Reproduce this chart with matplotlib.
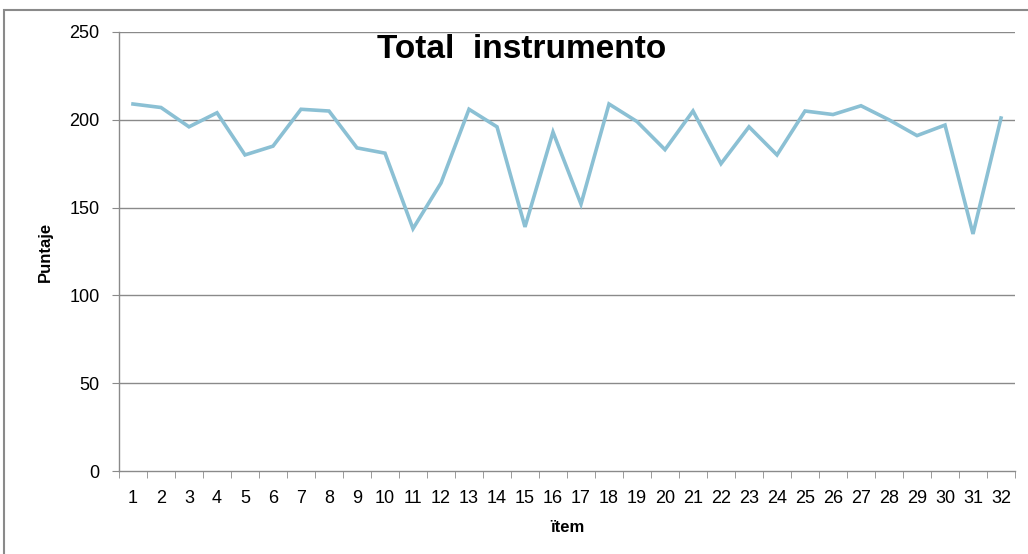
import matplotlib.pyplot as plt
from matplotlib.patches import Rectangle

items = list(range(1, 33))
puntaje = [209, 207, 196, 204, 180, 185, 206, 205, 184, 181,
           138, 164, 206, 196, 139, 193, 152, 209, 199, 183,
           205, 175, 196, 180, 205, 203, 208, 200, 191, 197,
           135, 201]
yticks = [0, 50, 100, 150, 200, 250]

plt.rcParams['font.family'] = ['Liberation Sans', 'DejaVu Sans']

fig = plt.figure(figsize=(10.28, 5.54), dpi=100)
ax = fig.add_axes([119 / 1028, 1 - 471 / 554, (1015 - 119) / 1028, (471 - 32) / 554])

# outer chart border (Excel style)
fig.patches.append(Rectangle((4 / 1028, -0.1), 1.2, 1 - 10 / 554 + 0.1,
                             transform=fig.transFigure, fill=False,
                             edgecolor='#8a8a8a', linewidth=1.5))

ax.plot(items, puntaje, color='#8bc0d4', linewidth=2.6, solid_joinstyle='miter')

ax.set_xlim(0.5, 32.5)
ax.set_ylim(0, 250)
ax.set_yticks(yticks)
ax.set_xticks(items)
ax.set_xticks([i + 0.5 for i in range(0, 33)], minor=True)
ax.tick_params(axis='x', which='major', length=0, pad=14, labelsize=13)
ax.tick_params(axis='x', which='minor', length=5, color='#8a8a8a')
ax.tick_params(axis='y', length=5, color='#8a8a8a', labelsize=13, pad=9)

for y in yticks[1:]:
    ax.axhline(y, color='#8a8a8a', linewidth=1, zorder=0)

for s in ['top', 'right']:
    ax.spines[s].set_visible(False)
for s in ['left', 'bottom']:
    ax.spines[s].set_color('#8a8a8a')
    ax.spines[s].set_linewidth(1)

fig.text(522 / 1028, 1 - 49 / 554, 'Total  instrumento', ha='center', va='center',
         fontsize=24, fontweight='bold')
ax.set_ylabel('Puntaje', fontsize=12, fontweight='bold', labelpad=12)
ax.set_xlabel('ïtem', fontsize=12, fontweight='bold', labelpad=9)

fig.savefig('out.png', dpi=100)
